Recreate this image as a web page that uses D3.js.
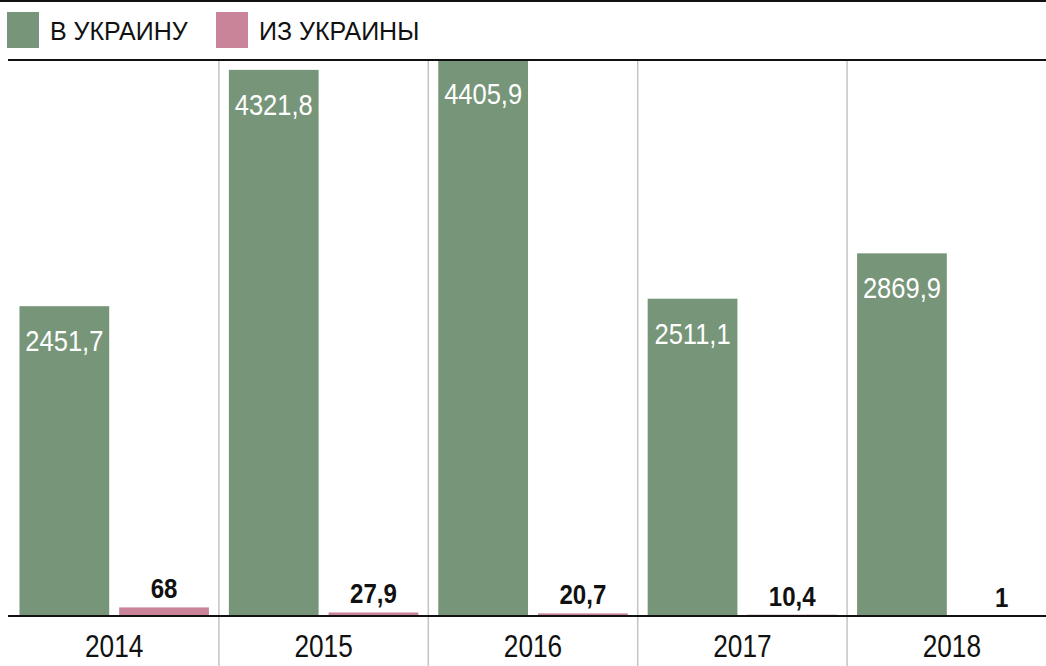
<!DOCTYPE html>
<html>
<head>
<meta charset="utf-8">
<script src="https://cdn.jsdelivr.net/npm/d3@7"></script>
<style>
  body { margin: 0; background: #fff; }
  svg { display: block; }
  .num { font-family: "Liberation Sans", Arial, sans-serif; }
  .legend-text { font-family: "Liberation Sans", Arial, sans-serif; font-size: 25px; fill: #111; }
</style>
</head>
<body>
<div id="chart"></div>
<script>
const years = ["2014", "2015", "2016", "2017", "2018"];
const toUkraine = [2451.7, 4321.8, 4405.9, 2511.1, 2869.9];
const fromUkraine = [68, 27.9, 20.7, 10.4, 1];
const seriesNames = ["В УКРАИНУ", "ИЗ УКРАИНЫ"];
const seriesColors = ["#779579", "#c98499"];

const width = 1046, height = 666;
const baseY = 616, topY = 60;

const svg = d3.select("#chart").append("svg")
    .attr("width", width)
    .attr("height", height);

const fmt = d3.formatLocale({decimal: ",", thousands: "", grouping: [3], currency: ["", ""]}).format("~f");

let xScale = d3.scaleBand()
    .domain(years)
    .range([9.5, 1056.5]);

let xSub = d3.scaleBand()
    .domain(["to", "from"])
    .range([0, xScale.bandwidth()])
    .paddingInner(0.1)
    .paddingOuter(0.1);

let yScale = d3.scaleLinear()
    .domain([0, 4400])
    .range([baseY, topY]);

// condensed look: squeeze text horizontally
const squeeze = (x, y, s) => `translate(${x},${y}) scale(${s},1)`;

// top rule
svg.append("line")
    .attr("x1", 0).attr("x2", width)
    .attr("y1", 1).attr("y2", 1)
    .attr("stroke", "#111").attr("stroke-width", 2);

// legend
const legend = svg.append("g");
const legendX = [7, 216];
seriesNames.forEach((name, i) => {
    legend.append("rect")
        .attr("x", legendX[i]).attr("y", 12)
        .attr("width", 32).attr("height", 36)
        .attr("fill", seriesColors[i]);
    legend.append("text")
        .attr("class", "legend-text")
        .attr("x", legendX[i] + 43).attr("y", 40)
        .text(name);
});

// separators between years
svg.selectAll(".sep")
    .data(years.slice(1))
    .enter()
    .append("line")
    .attr("class", "sep")
    .attr("x1", d => xScale(d)).attr("x2", d => xScale(d))
    .attr("y1", topY).attr("y2", height)
    .attr("stroke", "#c4c4c4").attr("stroke-width", 1.5);

const rows = years.map((y, i) => ({year: y, to: toUkraine[i], from: fromUkraine[i]}));

// green bars
svg.selectAll(".bar-to")
    .data(rows)
    .enter()
    .append("rect")
    .attr("class", "bar-to")
    .attr("x", d => xScale(d.year) + xSub("to"))
    .attr("y", d => yScale(d.to))
    .attr("width", xSub.bandwidth())
    .attr("height", d => baseY - yScale(d.to))
    .attr("fill", seriesColors[0]);

// pink bars
svg.selectAll(".bar-from")
    .data(rows)
    .enter()
    .append("rect")
    .attr("class", "bar-from")
    .attr("x", d => xScale(d.year) + xSub("from"))
    .attr("y", d => yScale(d.from))
    .attr("width", xSub.bandwidth())
    .attr("height", d => baseY - yScale(d.from))
    .attr("fill", seriesColors[1]);

// second rule (under legend)
svg.append("line")
    .attr("x1", 8).attr("x2", width)
    .attr("y1", topY).attr("y2", topY)
    .attr("stroke", "#111").attr("stroke-width", 2);

// baseline
svg.append("line")
    .attr("x1", 8).attr("x2", width)
    .attr("y1", baseY).attr("y2", baseY)
    .attr("stroke", "#111").attr("stroke-width", 2);

// labels inside green bars
svg.selectAll(".lbl-to")
    .data(rows)
    .enter()
    .append("text")
    .attr("class", "num lbl-to")
    .attr("transform", d => squeeze(xScale(d.year) + xSub("to") + xSub.bandwidth() / 2, yScale(d.to) + 45, 0.88))
    .attr("text-anchor", "middle")
    .attr("font-size", 29)
    .attr("fill", "#fff")
    .text(d => fmt(d.to));

// labels above pink bars
svg.selectAll(".lbl-from")
    .data(rows)
    .enter()
    .append("text")
    .attr("class", "num lbl-from")
    .attr("transform", d => squeeze(xScale(d.year) + xSub("from") + xSub.bandwidth() / 2, yScale(d.from) - 9, 0.86))
    .attr("text-anchor", "middle")
    .attr("font-size", 28)
    .attr("font-weight", "bold")
    .attr("fill", "#111")
    .text(d => fmt(d.from));

// year labels
svg.selectAll(".year")
    .data(years)
    .enter()
    .append("text")
    .attr("class", "num year")
    .attr("transform", d => squeeze(xScale(d) + xScale.bandwidth() / 2, 657, 0.82))
    .attr("text-anchor", "middle")
    .attr("font-size", 32)
    .attr("fill", "#111")
    .text(d => d);
</script>
</body>
</html>
